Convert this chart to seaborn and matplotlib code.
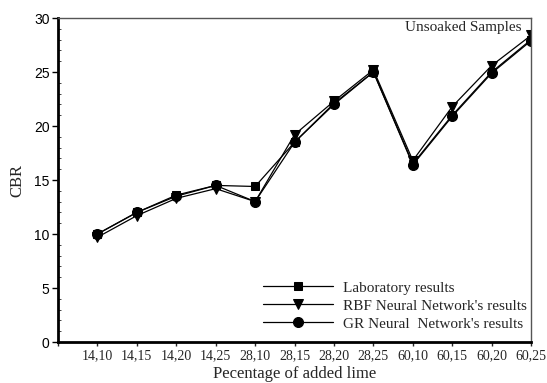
import matplotlib
matplotlib.use("Agg")
import matplotlib.pyplot as plt
import seaborn as sns
import pandas as pd
from matplotlib.ticker import MultipleLocator

categories = ["14,10", "14,15", "14,20", "14,25", "28,10", "28,15",
              "28,20", "28,25", "60,10", "60,15", "60,20", "60,25"]
lab = [10.0, 12.0, 13.6, 14.5, 14.4, 18.5, 22.1, 25.0, 16.5, 21.0, 25.0, 28.0]
rbf = [9.7, 11.7, 13.3, 14.2, 13.0, 19.2, 22.3, 25.2, 16.8, 21.8, 25.6, 28.4]
grn = [10.0, 12.0, 13.5, 14.5, 13.0, 18.5, 22.0, 25.0, 16.4, 20.9, 24.9, 27.9]
series_names = ["Laboratory results", "RBF Neural Network's results",
                "GR Neural  Network's results"]

sns.set_theme(style="white")
plt.rcParams['font.family'] = ['Liberation Serif', 'DejaVu Serif']

pos = list(range(1, len(categories) + 1))
fig = plt.figure(figsize=(5.47, 3.83), dpi=100)
ax = fig.add_axes([0.106, 0.107, 0.865, 0.846])

markers = ['s', 'v', 'o']
sizes = [6.2, 7.0, 7.2]
for vals, name, m, ms in zip([lab, rbf, grn], series_names, markers, sizes):
    df = pd.DataFrame({"x": pos, "y": vals})
    sns.lineplot(data=df, x="x", y="y", ax=ax, color="black", linewidth=0.9,
                 marker=m, markersize=ms, markeredgecolor="black",
                 markerfacecolor="black", label=name)

ax.set_xlim(0, 12)
ax.set_ylim(0, 30)
ax.set_xticks(pos)
ax.set_xticklabels(categories, fontsize=10, family=['Liberation Serif'])
ax.set_xticks([0], minor=True)
ax.yaxis.set_major_locator(MultipleLocator(5))
ax.yaxis.set_minor_locator(MultipleLocator(1))
for lbl in ax.get_yticklabels():
    lbl.set_family(['Liberation Sans'])
    lbl.set_fontsize(10)
ax.tick_params(axis='y', which='major', direction='out', length=4, width=1,
               left=True, pad=2, colors='black')
ax.tick_params(axis='y', which='minor', direction='in', length=2.5, width=0.6,
               left=True)
ax.tick_params(axis='x', which='both', direction='out', length=3, width=1,
               bottom=True, pad=2)

ax.set_xlabel("Pecentage of added lime", fontsize=12, labelpad=3)
ax.set_ylabel("CBR", fontsize=12, labelpad=6)

for side in ['left', 'bottom']:
    ax.spines[side].set_color('black')
    ax.spines[side].set_linewidth(2)
for side in ['top', 'right']:
    ax.spines[side].set_color('#555555')
    ax.spines[side].set_linewidth(1)

ax.text(0.98, 0.99, "Unsoaked Samples", transform=ax.transAxes,
        ha='right', va='top', fontsize=11)

leg = ax.legend(loc='lower left', bbox_to_anchor=(0.433, 0.035), frameon=False,
                fontsize=11, handlelength=4.6, handletextpad=0.65,
                labelspacing=0.28, borderpad=0, borderaxespad=0)

fig.savefig("out.png", dpi=100)
